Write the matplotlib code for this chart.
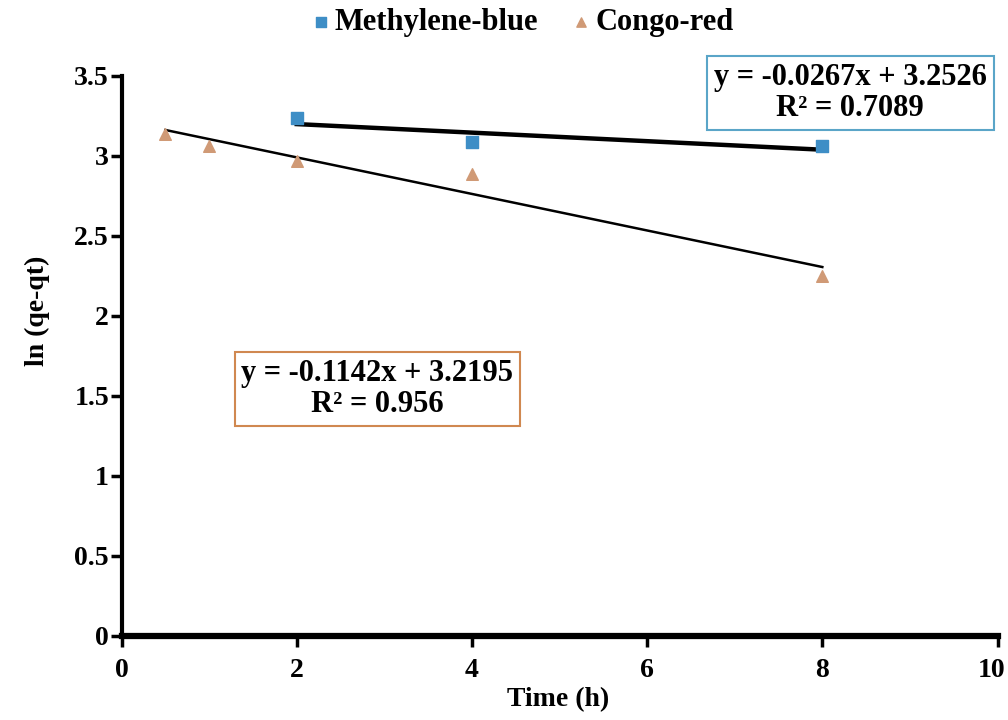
import matplotlib
matplotlib.use("Agg")
import matplotlib.pyplot as plt
import matplotlib.transforms as mtransforms
import numpy as np

plt.rcParams['font.family'] = ['Liberation Serif', 'DejaVu Serif']
plt.rcParams['font.weight'] = 'bold'

# Data
mb_time = [2, 4, 8]
mb_ln = [3.24, 3.09, 3.06]
cr_time = [0.5, 1, 2, 4, 8]
cr_ln = [3.14, 3.06, 2.97, 2.89, 2.25]

mb_slope, mb_icpt, mb_r2 = -0.0267, 3.2526, 0.7089
cr_slope, cr_icpt, cr_r2 = -0.1142, 3.2195, 0.956

x_ticks = [0, 2, 4, 6, 8, 10]
y_ticks = [0, 0.5, 1, 1.5, 2, 2.5, 3, 3.5]

mb_color = '#3E8EC6'
cr_color = '#D09A76'

fig = plt.figure(figsize=(10.08, 7.2), dpi=100)
ax = fig.add_axes([0.1206, 0.1167, 0.869, 0.7778])

ax.scatter(mb_time, mb_ln, marker='s', s=70, color=mb_color, label='Methylene-blue', zorder=3)
ax.scatter(cr_time, cr_ln, marker='^', s=70, color=cr_color, label='Congo-red', zorder=3)

xm = np.array([min(mb_time), max(mb_time)])
ax.plot(xm, mb_slope * xm + mb_icpt, color='black', lw=3.2, zorder=2)
xc = np.array([min(cr_time), max(cr_time)])
ax.plot(xc, cr_slope * xc + cr_icpt, color='black', lw=1.8, zorder=2)

ax.set_xlim(0, 10)
ax.set_ylim(0, 3.5)
ax.set_xticks(x_ticks)
ax.set_yticks(y_ticks)
ax.set_yticklabels([f'{v:g}' for v in y_ticks])
ax.tick_params(axis='both', labelsize=20, width=2.5, length=8, direction='out', pad=1)
ax.tick_params(axis='x', pad=8)
for lab in ax.get_xticklabels() + ax.get_yticklabels():
    lab.set_fontweight('bold')
# nudge the last x tick label slightly left so it stays inside the figure
last = ax.get_xticklabels()[-1]
last.set_transform(last.get_transform() + mtransforms.ScaledTranslation(-6 / 100, 0, fig.dpi_scale_trans))

for s in ['top', 'right']:
    ax.spines[s].set_visible(False)
ax.spines['left'].set_linewidth(3)
ax.spines['bottom'].set_linewidth(4.5)

ax.set_xlabel('Time (h)', fontsize=20, fontweight='bold')
ax.set_ylabel('ln (qe-qt)', fontsize=20, fontweight='bold')
ax.xaxis.set_label_coords(0.498, -0.092)
ax.yaxis.set_label_coords(-0.082, 0.58)

ax.text(0.832, 0.97, f'y = {mb_slope}x + {mb_icpt}\nR² = {mb_r2}', transform=ax.transAxes,
        ha='center', va='center', fontsize=22, fontweight='bold', multialignment='center',
        linespacing=1.1,
        bbox=dict(boxstyle='square,pad=0.22', fc='white', ec='#5AA5C8', lw=1.5))
ax.text(0.292, 0.441, f'y = {cr_slope}x + {cr_icpt}\nR² = {cr_r2}', transform=ax.transAxes,
        ha='center', va='center', fontsize=22, fontweight='bold', multialignment='center',
        linespacing=1.1,
        bbox=dict(boxstyle='square,pad=0.22', fc='white', ec='#D08850', lw=1.5))

fig.legend(loc='center', bbox_to_anchor=(0.517, 0.969), ncol=2, frameon=False,
           prop={'size': 22, 'weight': 'bold'}, handletextpad=0.05, columnspacing=1.0,
           markerscale=0.8, handlelength=0.8)

fig.savefig('out.png', dpi=100)
